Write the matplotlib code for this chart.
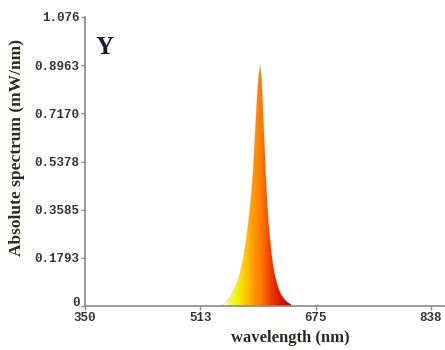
import matplotlib
matplotlib.use("Agg")
import matplotlib.pyplot as plt
import numpy as np
from matplotlib.colors import LinearSegmentedColormap

# spectrum (nm, mW/nm)
wavelength = [350, 540, 545, 550, 555, 560, 563, 566, 569, 572, 575, 578, 581,
              584, 587, 590, 593, 595, 597, 599, 601, 603, 605, 607, 609, 611,
              613, 615, 618, 621, 624, 627, 631, 635, 640, 645, 650, 1000]
power = [0.0, 0.0, 0.005, 0.018, 0.035, 0.058, 0.076, 0.098, 0.125, 0.16,
         0.205, 0.26, 0.325, 0.40, 0.50, 0.65, 0.79, 0.86, 0.8963, 0.84, 0.72,
         0.60, 0.48, 0.38, 0.30, 0.246, 0.195, 0.155, 0.112, 0.082, 0.058,
         0.041, 0.026, 0.015, 0.007, 0.003, 0.0, 0.0]

y_ticks = [0, 0.1793, 0.3585, 0.5378, 0.7170, 0.8963, 1.076]
y_tick_labels = ["0", "0.1793", "0.3585", "0.5378", "0.7170", "0.8963", "1.076"]
x_ticks = [350, 512.5, 675, 837.5]
x_tick_labels = ["350", "513", "675", "838"]

fig = plt.figure(figsize=(4.45, 3.5), dpi=100)
ax = fig.add_axes([85 / 445, 44 / 350, 461 / 445, 289 / 350])

ax.set_xlim(350, 1000)
ax.set_ylim(0, 1.076)

# gradient fill, yellow -> orange -> red across the peak
cmap = LinearSegmentedColormap.from_list(
    "spec", [(0.0, "#f0ff70"), (0.17, "#f4f000"), (0.3, "#ffc400"),
             (0.4, "#ff9c00"), (0.55, "#ff7400"), (0.7, "#f03400"),
             (0.85, "#d81400"), (1.0, "#c00000")])
poly = ax.fill_between(wavelength, power, 0, color="none", lw=0)
grad = np.linspace(0, 1, 256).reshape(1, -1)
im = ax.imshow(grad, cmap=cmap, aspect="auto", extent=[550, 640, 0, 1],
               zorder=2)
im.set_clip_path(poly.get_paths()[0], transform=ax.transData)
ax.plot(wavelength, power, color="#e07040", lw=0.4, alpha=0.4, zorder=3)

for side in ["top", "right"]:
    ax.spines[side].set_visible(False)
for side in ["left", "bottom"]:
    ax.spines[side].set_color("#8a8a8a")
    ax.spines[side].set_linewidth(1.2)

ax.set_yticks(y_ticks)
ax.set_yticklabels(y_tick_labels)
ax.set_xticks(x_ticks)
ax.set_xticklabels(x_tick_labels)
ax.tick_params(length=3, width=1, color="#8a8a8a", pad=1, labelcolor="#333333")
ax.tick_params(axis="x", pad=1)
for lab in ax.get_xticklabels() + ax.get_yticklabels():
    lab.set_family("Liberation Mono")
    lab.set_weight("bold")
    lab.set_fontsize(9)
# the "0" label sits a little above the axis corner
ax.get_yticklabels()[0].set_va("baseline")

fig.text(17 / 445, 1 - 148 / 350, "Absolute spectrum (mW/nm)", rotation=90,
         ha="center", va="center", family="Liberation Serif", weight="bold",
         fontsize=12.5, color="#2a2a1e")
fig.text(290 / 445, 1 - 338 / 350, "wavelength (nm)", ha="center", va="center",
         family="Liberation Serif", weight="bold", fontsize=12, color="#2a2a1e")
fig.text(105 / 445, 1 - 48 / 350, "Y", ha="center", va="center",
         family="Liberation Serif", fontsize=18, weight="bold", color="#1a1a3a")

fig.savefig("out.png", dpi=100)
